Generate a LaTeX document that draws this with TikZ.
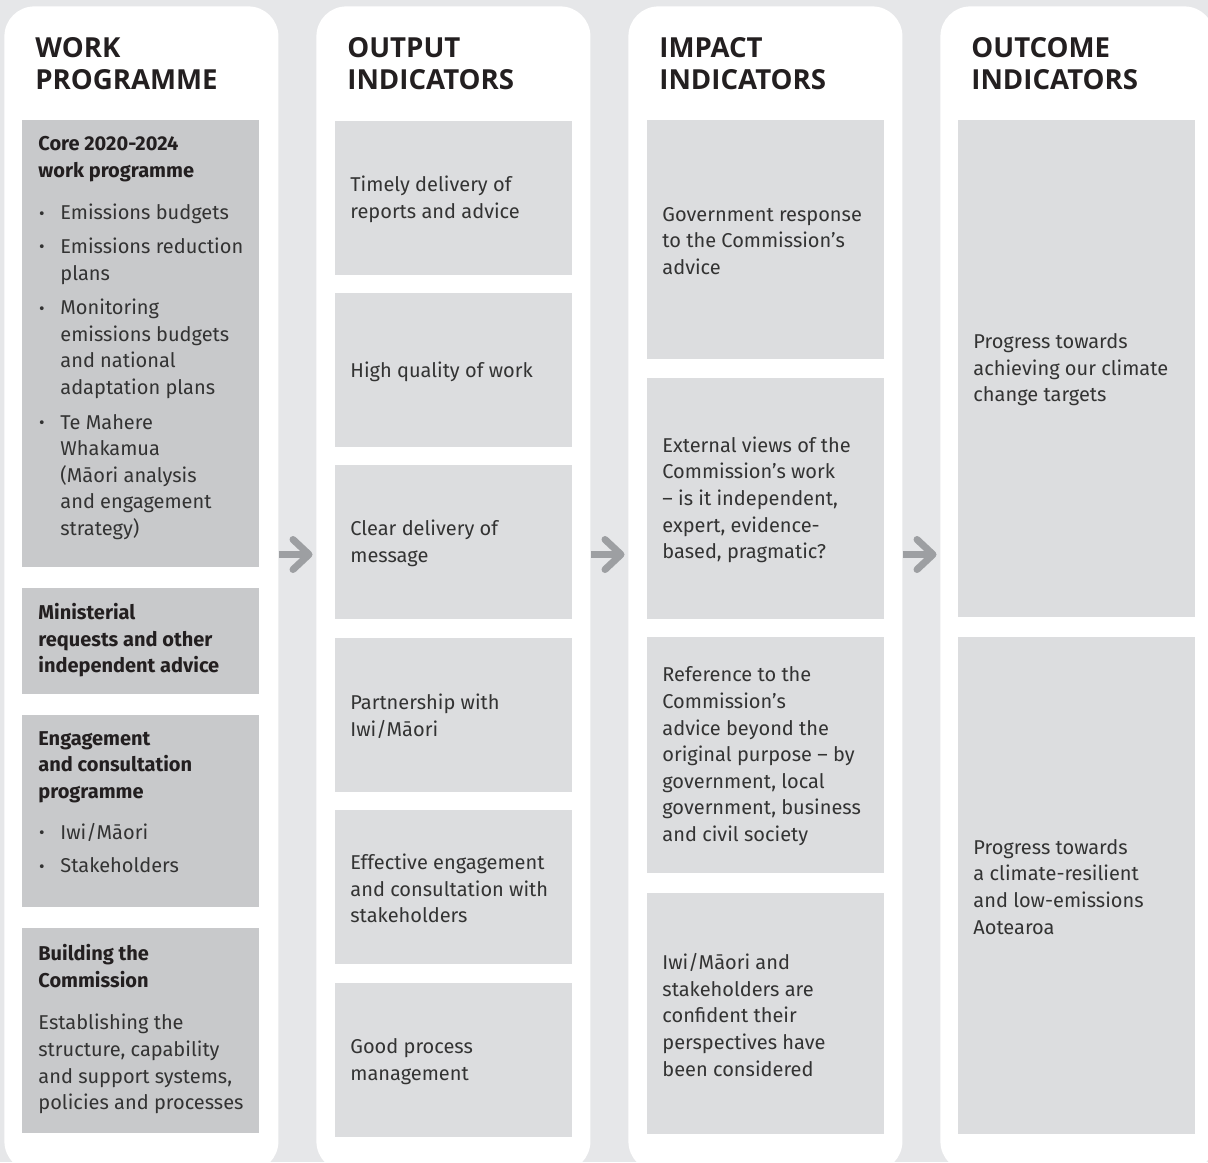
\documentclass[tikz,border=0pt]{standalone}
\usepackage{fontspec}
\setmainfont{Fira Sans}
\newfontfamily\headfont{Open Sans}
\usepackage{xcolor}
\usetikzlibrary{calc,arrows.meta}

\definecolor{bgGrey}{HTML}{E6E7E9}
\definecolor{darkBox}{HTML}{C8C9CB}
\definecolor{lightBox}{HTML}{DCDDDF}
\definecolor{arrowGrey}{HTML}{9D9FA2}
\definecolor{inkText}{HTML}{231F20}
\definecolor{bodyText}{HTML}{333333}

% bullet and hanging indent for the work programme lists
\newcommand{\bul}{\makebox[11pt][l]{\hspace{0.3pt}\raisebox{0.03em}{\scalebox{0.85}{\textbullet}}}}
\newcommand{\ind}{\hspace*{11pt}}

\tikzset{
  panel/.style={fill=white, rounded corners=15pt, minimum width=137pt, minimum height=582.5pt, anchor=north west, inner sep=0pt},
  wpbox/.style={fill=darkBox, minimum width=118.5pt, anchor=north west, inner sep=0pt},
  indbox/.style={fill=lightBox, minimum width=118.5pt, anchor=north west, inner sep=0pt},
  heading/.style={anchor=north west, inner sep=0pt, align=left, text=inkText, font=\headfont\bfseries\fontsize{13.8}{16.25}\selectfont},
  wptxt/.style={anchor=north west, inner sep=0pt, align=left, text=bodyText, font=\fontsize{10}{13.3}\selectfont},
  bodytxt/.style={anchor=west, inner sep=0pt, align=left, text=bodyText, font=\fontsize{10}{13.3}\selectfont},
  flow/.style={draw=arrowGrey, line width=3.5pt, -{Straight Barb[length=8pt,width=15pt,line cap=round,line join=round]}, shorten >=1.75pt}
}

\begin{document}
\begin{tikzpicture}[x=0.5pt,y=-0.5pt]
        % Page and background
        \useasboundingbox (0,0) rectangle (1208,1162);
        \clip (0,0) rectangle (1208,1162);
        \fill[bgGrey] (0,0) rectangle (1208,1162);
        % White columns
        \node[panel] (p1) at (4,6) {};
        \node[panel] (p2) at (316,6) {};
        \node[panel] (p3) at (628,6) {};
        \node[panel] (p4) at (940,6) {};
        % Column headings
        \node[heading] (h1) at ($(p1.north west)+(31,31)$) {WORK\\PROGRAMME};
        \node[heading] (h2) at ($(p2.north west)+(31,31)$) {OUTPUT\\INDICATORS};
        \node[heading] (h3) at ($(p3.north west)+(31,31)$) {IMPACT\\INDICATORS};
        \node[heading] (h4) at ($(p4.north west)+(31,31)$) {OUTCOME\\INDICATORS};
        % Work programme boxes
        \node[wpbox, minimum height=223.5pt] (w1) at (22,120) {};
        \node[wpbox, minimum height=53pt] (w2) at (22,588) {};
        \node[wpbox, minimum height=96pt] (w3) at (22,715) {};
        \node[wpbox, minimum height=102.5pt] (w4) at (22,928) {};
        \node[wptxt] (w1t) at ($(w1.north west)+(16,16)$) {%
          \textbf{\color{inkText}Core 2020-2024}\\\textbf{\color{inkText}work programme}\\[8pt]
          \bul Emissions budgets\\[3.5pt]
          \bul Emissions reduction\\\ind plans\\[4pt]
          \bul Monitoring\\\ind emissions budgets\\\ind and national\\\ind adaptation plans\\[4pt]
          \bul Te Mahere\\\ind Whakamua\\\ind (Māori analysis\\\ind and engagement\\\ind strategy)};
        \node[wptxt] (w2t) at ($(w2.north west)+(16,15)$) {%
          \textbf{\color{inkText}Ministerial}\\\textbf{\color{inkText}requests and other}\\\textbf{\color{inkText}independent advice}};
        \node[wptxt] (w3t) at ($(w3.north west)+(16,16)$) {%
          \textbf{\color{inkText}Engagement}\\\textbf{\color{inkText}and consultation}\\\textbf{\color{inkText}programme}\\[7pt]
          \bul Iwi/Māori\\[3.5pt]
          \bul Stakeholders};
        \node[wptxt] (w4t) at ($(w4.north west)+(16,16)$) {%
          \textbf{\color{inkText}Building the}\\\textbf{\color{inkText}Commission}\\[8pt]
          Establishing the\\structure, capability\\and support systems,\\policies and processes};
        % Output indicators
        \node[indbox, minimum height=77pt] (o1) at (335,121) {};
        \node[indbox, minimum height=77pt] (o2) at (335,293) {};
        \node[indbox, minimum height=77pt] (o3) at (335,465) {};
        \node[indbox, minimum height=77pt] (o4) at (335,638) {};
        \node[indbox, minimum height=77pt] (o5) at (335,810) {};
        \node[indbox, minimum height=77pt] (o6) at (335,983) {};
        \node[bodytxt] (o1t) at ($(o1.west)+(15,1)$) {Timely delivery of\\reports and advice};
        \node[bodytxt] (o2t) at ($(o2.west)+(15,1)$) {High quality of work};
        \node[bodytxt] (o3t) at ($(o3.west)+(15,1)$) {Clear delivery of\\message};
        \node[bodytxt] (o4t) at ($(o4.west)+(15,1)$) {Partnership with\\Iwi/Māori};
        \node[bodytxt] (o5t) at ($(o5.west)+(15,1)$) {Effective engagement\\and consultation with\\stakeholders};
        \node[bodytxt] (o6t) at ($(o6.west)+(15,1)$) {Good process\\management};
        % Impact indicators
        \node[indbox, minimum height=119.5pt] (i1) at (647,120) {};
        \node[indbox, minimum height=120.5pt] (i2) at (647,378) {};
        \node[indbox, minimum height=118pt] (i3) at (647,637) {};
        \node[indbox, minimum height=120.5pt] (i4) at (647,893) {};
        \node[bodytxt] (i1t) at ($(i1.west)+(15,1)$) {Government response\\to the Commission’s\\advice};
        \node[bodytxt] (i2t) at ($(i2.west)+(15,1)$) {External views of the\\Commission’s work\\– is it independent,\\expert, evidence-\\based, pragmatic?};
        \node[bodytxt] (i3t) at ($(i3.west)+(15,1)$) {Reference to the\\Commission’s\\advice beyond the\\original purpose – by\\government, local\\government, business\\and civil society};
        \node[bodytxt] (i4t) at ($(i4.west)+(15,1)$) {Iwi/Māori and\\stakeholders are\\confident their\\perspectives have\\been considered};
        % Outcome indicators
        \node[indbox, minimum height=248.5pt] (c1) at (958,120) {};
        \node[indbox, minimum height=248.5pt] (c2) at (958,637) {};
        \node[bodytxt] (c1t) at ($(c1.west)+(15,1)$) {Progress towards\\achieving our climate\\change targets};
        \node[bodytxt] (c2t) at ($(c2.west)+(15,1)$) {Progress towards\\a climate-resilient\\and low-emissions\\Aotearoa};
        % Arrows between the columns
        \coordinate (mid) at (0,554.5);
        \draw[flow] (p1.east |- mid) -- (p2.west |- mid);
        \draw[flow] (p2.east |- mid) -- (p3.west |- mid);
        \draw[flow] (p3.east |- mid) -- (p4.west |- mid);
\end{tikzpicture}
\end{document}
